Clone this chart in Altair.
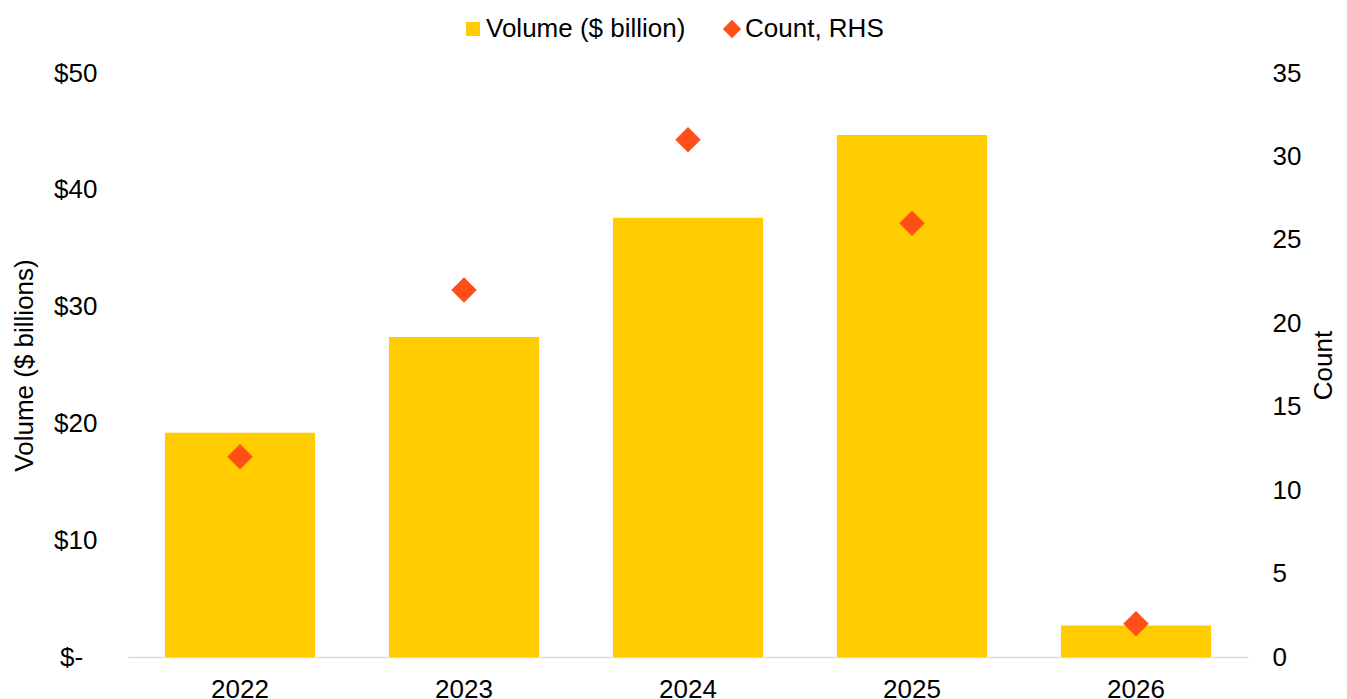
import altair as alt
import pandas as pd

years = ["2022", "2023", "2024", "2025", "2026"]
volume = [19.2, 27.4, 37.6, 44.7, 2.7]
count = [12, 22, 31, 26, 2]
vol_name = "Volume ($ billion)"
cnt_name = "Count, RHS"
left_ticks = [0, 10, 20, 30, 40, 50]
right_ticks = [0, 5, 10, 15, 20, 25, 30, 35]

df = pd.DataFrame({
    "year": years,
    "volume": volume,
    "count": count,
    "vol_label": [vol_name] * len(years),
    "cnt_label": [cnt_name] * len(years),
})

YELLOW = "#FFCC00"
RED = "#FF4F18"
FONT = "Liberation Sans"
FS = 26

x_enc = alt.X(
    "year:N",
    scale=alt.Scale(paddingInner=0.33, paddingOuter=0.165),
    axis=alt.Axis(
        title=None, labelAngle=0, ticks=False, tickSize=0, grid=False,
        domainColor="#D9D9D9", domainWidth=1.5, labelPadding=19,
        labelFontSize=FS, labelFont=FONT, labelColor="#000000",
    ),
)

bars = alt.Chart(df).mark_bar(color=YELLOW).encode(
    x=x_enc,
    y=alt.Y(
        "volume:Q",
        scale=alt.Scale(domain=[0, 50]),
        axis=alt.Axis(
            values=left_ticks, orient="left", grid=False, ticks=False, tickSize=0,
            domain=False, labelPadding=31, labelFontSize=FS, labelFont=FONT,
            labelColor="#000000",
            labelExpr="datum.value == 0 ? '$-\u00a0\u00a0\u200b' : '$' + datum.value",
            title="Volume ($ billions)", titleFontSize=FS, titleFont=FONT,
            titleFontWeight="normal", titleColor="#000000", titleAngle=270,
            titleX=-104, titleY=292, titleAlign="center", titleBaseline="middle",
        ),
    ),
    color=alt.Color(
        "vol_label:N",
        scale=alt.Scale(domain=[vol_name], range=[YELLOW]),
        legend=alt.Legend(
            orient="none", legendX=332, legendY=-57, title=None,
            symbolType="square", symbolSize=196, symbolStrokeWidth=0,
            labelFontSize=FS, labelFont=FONT, labelColor="#000000",
            labelOffset=0, labelLimit=600, padding=0,
        ),
    ),
)

points = alt.Chart(df).mark_point(
    filled=True, size=650, color=RED, opacity=1, strokeWidth=0
).encode(
    x=x_enc,
    y=alt.Y(
        "count:Q",
        scale=alt.Scale(domain=[0, 35]),
        axis=alt.Axis(
            values=right_ticks, orient="right", grid=False, ticks=False, tickSize=0,
            domain=False, labelPadding=24, labelFontSize=FS, labelFont=FONT,
            labelColor="#000000",
            title="Count", titleFontSize=FS, titleFont=FONT,
            titleFontWeight="normal", titleColor="#000000", titleAngle=270,
            titleX=75, titleY=292, titleAlign="center", titleBaseline="middle",
        ),
    ),
    shape=alt.Shape(
        "cnt_label:N",
        scale=alt.Scale(domain=[cnt_name], range=["diamond"]),
        legend=alt.Legend(
            orient="none", legendX=591, legendY=-57, title=None,
            symbolSize=335, symbolFillColor=RED, symbolStrokeWidth=0,
            labelFontSize=FS, labelFont=FONT, labelColor="#000000",
            labelOffset=0, labelLimit=600, padding=0,
        ),
    ),
)

chart = alt.layer(bars, points).resolve_scale(y="independent").properties(
    width=1120,
    height=584,
    autosize=alt.AutoSizeParams(type="none"),
    padding={"left": 128, "top": 73, "right": 99, "bottom": 42},
    background="white",
).configure(font=FONT).configure_view(stroke=None)

chart.save("out.html", embed_options={"renderer": "svg", "actions": False})
